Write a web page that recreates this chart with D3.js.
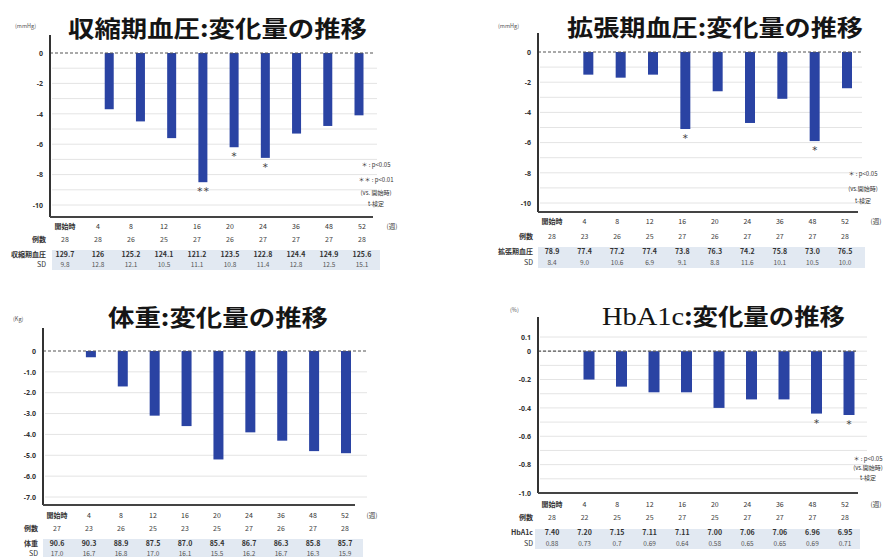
<!DOCTYPE html>
<html>
<head>
<meta charset="utf-8">
<script src="https://cdn.jsdelivr.net/npm/d3@7"></script>
<style>
  body { margin: 0; background: #fff; }
  svg { display: block; font-family: "Noto Sans CJK JP", "Noto Sans", sans-serif; }
</style>
</head>
<body>
<div id="chart"></div>
<script>
// categories (weeks)
const weeks = ['開始時', '4', '8', '12', '16', '20', '24', '36', '48', '52'];

// systolic BP
const sbpChange = [null, -3.7, -4.5, -5.6, -8.5, -6.2, -6.9, -5.3, -4.8, -4.1];
const sbpN = [28, 28, 26, 25, 27, 26, 27, 27, 27, 28];
const sbpMean = ['129.7', '126', '125.2', '124.1', '121.2', '123.5', '122.8', '124.4', '124.9', '125.6'];
const sbpSD = ['9.8', '12.8', '12.1', '10.5', '11.1', '10.8', '11.4', '12.8', '12.5', '15.1'];
const sbpSig = ['', '', '', '', '＊＊', '＊', '＊', '', '', ''];
const sbpTicks = [0, -2, -4, -6, -8, -10];
const sbpTickLabels = ['0', '-2', '-4', '-6', '-8', '-10'];

// diastolic BP
const dbpChange = [null, -1.5, -1.7, -1.5, -5.1, -2.6, -4.7, -3.1, -5.9, -2.4];
const dbpN = [28, 23, 26, 25, 27, 26, 27, 27, 27, 28];
const dbpMean = ['78.9', '77.4', '77.2', '77.4', '73.8', '76.3', '74.2', '75.8', '73.0', '76.5'];
const dbpSD = ['8.4', '9.0', '10.6', '6.9', '9.1', '8.8', '11.6', '10.1', '10.5', '10.0'];
const dbpSig = ['', '', '', '', '＊', '', '', '', '＊', ''];
const dbpTicks = [0, -2, -4, -6, -8, -10];
const dbpTickLabels = ['0', '-2', '-4', '-6', '-8', '-10'];

// body weight
const wtChange = [null, -0.3, -1.7, -3.1, -3.6, -5.2, -3.9, -4.3, -4.8, -4.9];
const wtN = [27, 23, 26, 25, 23, 25, 27, 26, 27, 28];
const wtMean = ['90.6', '90.3', '88.9', '87.5', '87.0', '85.4', '86.7', '86.3', '85.8', '85.7'];
const wtSD = ['17.0', '16.7', '16.8', '17.0', '16.1', '15.5', '16.2', '16.7', '16.3', '15.9'];
const wtSig = ['', '', '', '', '', '', '', '', '', ''];
const wtTicks = [0, -1, -2, -3, -4, -5, -6, -7];
const wtTickLabels = ['0', '-1.0', '-2.0', '-3.0', '-4.0', '-5.0', '-6.0', '-7.0'];

// HbA1c
const a1cChange = [null, -0.20, -0.25, -0.29, -0.29, -0.40, -0.34, -0.34, -0.44, -0.45];
const a1cN = [28, 22, 25, 25, 27, 25, 27, 27, 27, 28];
const a1cMean = ['7.40', '7.20', '7.15', '7.11', '7.11', '7.00', '7.06', '7.06', '6.96', '6.95'];
const a1cSD = ['0.88', '0.73', '0.7', '0.69', '0.64', '0.58', '0.65', '0.65', '0.69', '0.71'];
const a1cSig = ['', '', '', '', '', '', '', '', '＊', '＊'];
const a1cTicks = [0.1, 0, -0.2, -0.4, -0.6, -0.8, -1.0];
const a1cTickLabels = ['0.1', '0', '-0.2', '-0.4', '-0.6', '-0.8', '-1.0'];

const W = 885, H = 557;
const barColor = '#2a43a3';
const shadeColor = '#e2e9f2';

const svg = d3.select('#chart').append('svg')
    .attr('width', W)
    .attr('height', H);

function drawPanel(c) {
    const g = svg.append('g');
    const y = d3.scaleLinear().domain(c.yDomain).range(c.yRange);
    const xBar = d3.scalePoint().domain(weeks).range(c.barRange);
    const xTab = d3.scalePoint().domain(weeks).range(c.tableRange);
    const zeroY = y(0);

    // light grid lines
    g.selectAll('line.grid').data(c.grid).join('line')
        .attr('class', 'grid')
        .attr('x1', c.axisX + 2).attr('x2', c.gridEnd)
        .attr('y1', d => y(d)).attr('y2', d => y(d))
        .attr('stroke', '#e4e4e4').attr('stroke-width', 1);

    // y axis labels
    const labelOf = new Map(c.ticks.map((t, i) => [t, c.tickLabels[i]]));
    const yAxis = d3.axisLeft(y)
        .tickValues(c.ticks)
        .tickFormat(d => labelOf.get(d))
        .tickSize(0)
        .tickPadding(7);
    const ax = g.append('g')
        .attr('transform', `translate(${c.axisX},0)`)
        .call(yAxis);
    ax.select('.domain').remove();
    ax.selectAll('text')
        .attr('font-size', 7).attr('font-weight', 'bold')
        .attr('fill', '#333').attr('font-family', '"Noto Sans", sans-serif');

    // bars
    const rows = weeks.map((w, i) => ({ w, v: c.change[i], sig: c.sig[i] }));
    g.selectAll('rect.bar').data(rows.filter(d => d.v != null)).join('rect')
        .attr('class', 'bar')
        .attr('x', d => xBar(d.w) - c.barWidth / 2)
        .attr('y', zeroY)
        .attr('width', c.barWidth)
        .attr('height', d => y(d.v) - zeroY)
        .attr('fill', barColor);

    // significance markers
    g.selectAll('text.sig').data(rows.filter(d => d.sig)).join('text')
        .attr('class', 'sig')
        .attr('x', d => xBar(d.w))
        .attr('y', d => y(d.v) + 10)
        .attr('text-anchor', 'middle')
        .attr('font-size', 6.5).attr('font-weight', 'bold').attr('fill', '#444')
        .text(d => d.sig);

    // dashed zero line
    g.append('line')
        .attr('x1', c.axisX).attr('x2', c.dashEnd)
        .attr('y1', zeroY).attr('y2', zeroY)
        .attr('stroke', '#555').attr('stroke-width', 1.2)
        .attr('stroke-dasharray', '3,2');

    // axis lines
    g.append('line')
        .attr('x1', c.axisX).attr('x2', c.axisX)
        .attr('y1', c.axisTop).attr('y2', c.axisBottom)
        .attr('stroke', '#333').attr('stroke-width', 2);
    g.append('line')
        .attr('x1', c.axisX).attr('x2', c.xAxisEnd)
        .attr('y1', c.axisBottom).attr('y2', c.axisBottom)
        .attr('stroke', '#444').attr('stroke-width', 2.2);

    // unit
    g.append('text')
        .attr('x', c.unit.x).attr('y', c.unit.y)
        .attr('font-size', 5.5).attr('fill', '#555')
        .text(c.unit.text);

    // title
    const t = g.append('text')
        .attr('x', c.title.x).attr('y', c.title.y)
        .attr('font-size', c.title.size)
        .attr('font-weight', 'bold').attr('fill', '#151515')
        .attr('textLength', c.title.len).attr('lengthAdjust', 'spacingAndGlyphs');
    if (c.title.serif) {
        t.append('tspan')
            .attr('font-family', '"Liberation Serif", serif')
            .attr('font-weight', 'normal')
            .attr('font-size', c.title.size * 1.12)
            .text(c.title.serif);
    }
    t.append('tspan').text(c.title.text);

    // legend
    g.selectAll('text.leg').data(c.legend).join('text')
        .attr('class', 'leg')
        .attr('x', d => d.x).attr('y', d => d.y)
        .attr('text-anchor', 'middle')
        .attr('font-size', 6).attr('fill', '#333')
        .text(d => d.text);

    // table shading
    g.append('rect')
        .attr('x', c.shade[0]).attr('y', c.shade[1])
        .attr('width', c.shade[2] - c.shade[0]).attr('height', c.shade[3] - c.shade[1])
        .attr('fill', shadeColor);

    // week labels
    g.selectAll('text.wk').data(weeks).join('text')
        .attr('class', 'wk')
        .attr('x', d => xTab(d)).attr('y', c.rowY[0])
        .attr('text-anchor', 'middle')
        .attr('font-size', 7).attr('fill', '#333')
        .attr('font-weight', (d, i) => i === 0 ? 'bold' : 'normal')
        .text(d => d);
    g.append('text')
        .attr('x', c.weekUnitX).attr('y', c.rowY[0])
        .attr('text-anchor', 'middle')
        .attr('font-size', 6.5).attr('fill', '#333')
        .text('(週)');

    // n row
    g.selectAll('text.n').data(c.n).join('text')
        .attr('class', 'n')
        .attr('x', (d, i) => xTab(weeks[i])).attr('y', c.rowY[1])
        .attr('text-anchor', 'middle')
        .attr('font-size', 7).attr('fill', '#444')
        .text(d => d);

    // mean row
    g.selectAll('text.mean').data(c.mean).join('text')
        .attr('class', 'mean')
        .attr('x', (d, i) => xTab(weeks[i])).attr('y', c.rowY[2])
        .attr('text-anchor', 'middle')
        .attr('font-size', 7).attr('font-weight', 'bold').attr('fill', '#333')
        .text(d => d);

    // SD row
    g.selectAll('text.sd').data(c.sd).join('text')
        .attr('class', 'sd')
        .attr('x', (d, i) => xTab(weeks[i])).attr('y', c.rowY[3])
        .attr('text-anchor', 'middle')
        .attr('font-size', 6.5).attr('fill', '#555')
        .text(d => d);

    // row labels
    const rl = [['例数', c.rowY[1], 'bold'], [c.rowName, c.rowY[2], 'bold'], ['SD', c.rowY[3], 'normal']];
    g.selectAll('text.rl').data(rl).join('text')
        .attr('class', 'rl')
        .attr('x', c.rowLabelX).attr('y', d => d[1])
        .attr('text-anchor', 'end')
        .attr('font-size', 7).attr('fill', '#333')
        .attr('font-weight', d => d[2])
        .text(d => d[0]);
}

// systolic
drawPanel({
    change: sbpChange, n: sbpN, mean: sbpMean, sd: sbpSD, sig: sbpSig,
    ticks: sbpTicks, tickLabels: sbpTickLabels,
    yDomain: [0, -10], yRange: [53, 205],
    grid: d3.range(-1, -10.5, -1),
    axisX: 50, axisTop: 35, axisBottom: 217, gridEnd: 377, dashEnd: 373, xAxisEnd: 373,
    barRange: [78, 359], tableRange: [65, 362], barWidth: 9,
    title: { text: '収縮期血圧:変化量の推移', x: 68, y: 37, size: 23, len: 299 },
    unit: { text: '(mmHg)', x: 15, y: 28 },
    legend: [
        { text: '＊ : p<0.05', x: 376, y: 167 },
        { text: '＊＊ : p<0.01', x: 376, y: 182 },
        { text: '(vs. 開始時)', x: 376, y: 195 },
        { text: 't-検定', x: 376, y: 206 }
    ],
    shade: [52, 250, 380, 270],
    rowY: [229, 242, 257, 267], weekUnitX: 392, rowLabelX: 46, rowName: '収縮期血圧'
});

// diastolic
drawPanel({
    change: dbpChange, n: dbpN, mean: dbpMean, sd: dbpSD, sig: dbpSig,
    ticks: dbpTicks, tickLabels: dbpTickLabels,
    yDomain: [0, -10], yRange: [52, 203],
    grid: d3.range(-1, -10.5, -1),
    axisX: 538, axisTop: 33, axisBottom: 212, gridEnd: 862, dashEnd: 862, xAxisEnd: 858,
    barRange: [556, 847], tableRange: [552, 845], barWidth: 10,
    title: { text: '拡張期血圧:変化量の推移', x: 567, y: 36, size: 23, len: 296 },
    unit: { text: '(mmHg)', x: 498, y: 28 },
    legend: [
        { text: '＊ : p<0.05', x: 863, y: 176 },
        { text: '(vs.開始時)', x: 863, y: 191 },
        { text: 't-検定', x: 863, y: 203 }
    ],
    shade: [538, 247, 865, 268],
    rowY: [224, 239, 254, 265], weekUnitX: 876, rowLabelX: 533, rowName: '拡張期血圧'
});

// weight
drawPanel({
    change: wtChange, n: wtN, mean: wtMean, sd: wtSD, sig: wtSig,
    ticks: wtTicks, tickLabels: wtTickLabels,
    yDomain: [0, -7], yRange: [351, 497],
    grid: d3.range(-1, -7.5, -1),
    axisX: 43, axisTop: 328, axisBottom: 505, gridEnd: 367, dashEnd: 367, xAxisEnd: 355,
    barRange: [59, 346], tableRange: [57, 345], barWidth: 10,
    title: { text: '体重:変化量の推移', x: 108, y: 326, size: 23, len: 220 },
    unit: { text: '(Kg)', x: 13, y: 321 },
    legend: [],
    shade: [43, 539, 363, 557],
    rowY: [518, 531, 546, 556], weekUnitX: 372, rowLabelX: 38, rowName: '体重'
});

// HbA1c
drawPanel({
    change: a1cChange, n: a1cN, mean: a1cMean, sd: a1cSD, sig: a1cSig,
    ticks: a1cTicks, tickLabels: a1cTickLabels,
    yDomain: [0.1, -1.0], yRange: [337, 493],
    grid: d3.range(0.1, -0.95, -0.1),
    axisX: 538, axisTop: 317, axisBottom: 493, gridEnd: 867, dashEnd: 858, xAxisEnd: 858,
    barRange: [556.5, 849], tableRange: [552, 845], barWidth: 11,
    title: { serif: 'HbA1c', text: ':変化量の推移', x: 602, y: 325, size: 23, len: 243 },
    unit: { text: '(%)', x: 510, y: 312 },
    legend: [
        { text: '＊ : p<0.05', x: 868, y: 461 },
        { text: '(vs.開始時)', x: 868, y: 470 },
        { text: 't-検定', x: 868, y: 480 }
    ],
    shade: [535, 529, 860, 549],
    rowY: [507, 520, 535, 546], weekUnitX: 876, rowLabelX: 533, rowName: 'HbA1c'
});
</script>
</body>
</html>
